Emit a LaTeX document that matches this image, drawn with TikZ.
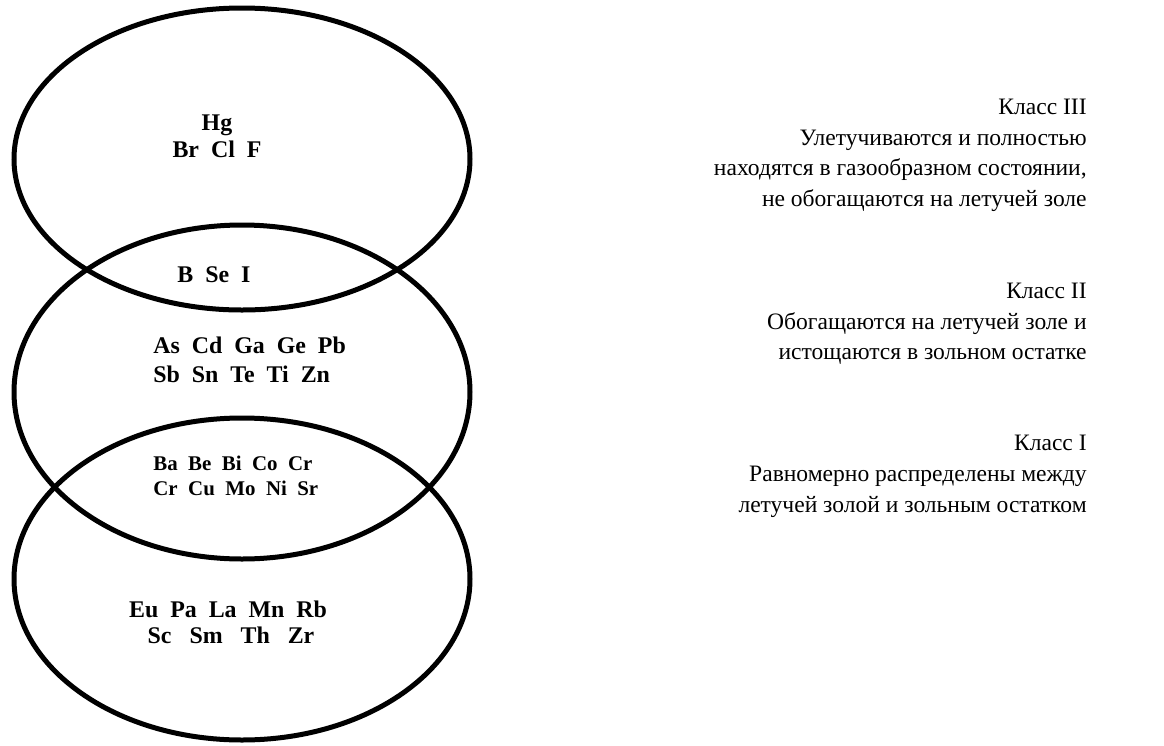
\documentclass[tikz,border=0pt]{standalone}
\usepackage{fontspec}
\setmainfont{Liberation Serif}
\usepackage{tikz}
\usetikzlibrary{positioning}

\tikzset{
    ring/.style={line width=0.1cm},
    elem/.style={font=\bfseries\fontsize{13.6}{16}\selectfont, inner sep=0pt},
    elemsmall/.style={font=\bfseries\fontsize{11.9}{14}\selectfont, inner sep=0pt},
    note/.style={font=\fontsize{13.4}{16}\selectfont, inner sep=0pt, anchor=base east}
}

\begin{document}
\begin{tikzpicture}[x=0.02cm, y=-0.02cm]
    \useasboundingbox (0,0) rectangle (1164,745);
    % Ellipses
    \draw [ring] (242,159) ellipse [x radius=228, y radius=151];
    \draw [ring] (242,392) ellipse [x radius=228, y radius=167];
    \draw [ring] (242,579) ellipse [x radius=228, y radius=161];
    % Elements, class III
    \node [elem, anchor=base] (hg) at (217,130) {Hg};
    \node [elem, anchor=base] (halo) at (217,157) {Br~~Cl~~F};
    \node [elem, anchor=base] (bsei) at (214,282) {B~~Se~~I};
    % Elements, class II
    \node [elem, anchor=base west] (asrow) at (153,353) {As~~Cd~~Ga~~Ge~~Pb};
    \node [elem, anchor=base west] (sbrow) at (153,382) {Sb~~Sn~~Te~~Ti~~Zn};
    \node [elemsmall, anchor=base west] (barow) at (153,470) {Ba~~Be~~Bi~~Co~~Cr};
    \node [elemsmall, anchor=base west] (crrow) at (153,495) {Cr~~Cu~~Mo~~Ni~~Sr};
    % Elements, class I
    \node [elem, anchor=base] (eurow) at (228,617) {Eu~~Pa~~La~~Mn~~Rb};
    \node [elem, anchor=base] (scrow) at (231,643) {Sc~~~Sm~~~Th~~~Zr};
    % Class descriptions
    \node [note] (c3a) at (1087,114) {Класс III};
    \node [note] (c3b) at (1087,145) {Улетучиваются и полностью};
    \node [note] (c3c) at (1087,175) {находятся в газообразном состоянии,};
    \node [note] (c3d) at (1087,206) {не обогащаются на летучей золе};
    \node [note] (c2a) at (1087,298) {Класс II};
    \node [note] (c2b) at (1087,329) {Обогащаются на летучей золе и};
    \node [note] (c2c) at (1087,359) {истощаются в зольном остатке};
    \node [note] (c1a) at (1087,450) {Класс I};
    \node [note] (c1b) at (1087,481) {Равномерно распределены между};
    \node [note] (c1c) at (1087,512) {летучей золой и зольным остатком};
\end{tikzpicture}
\end{document}
